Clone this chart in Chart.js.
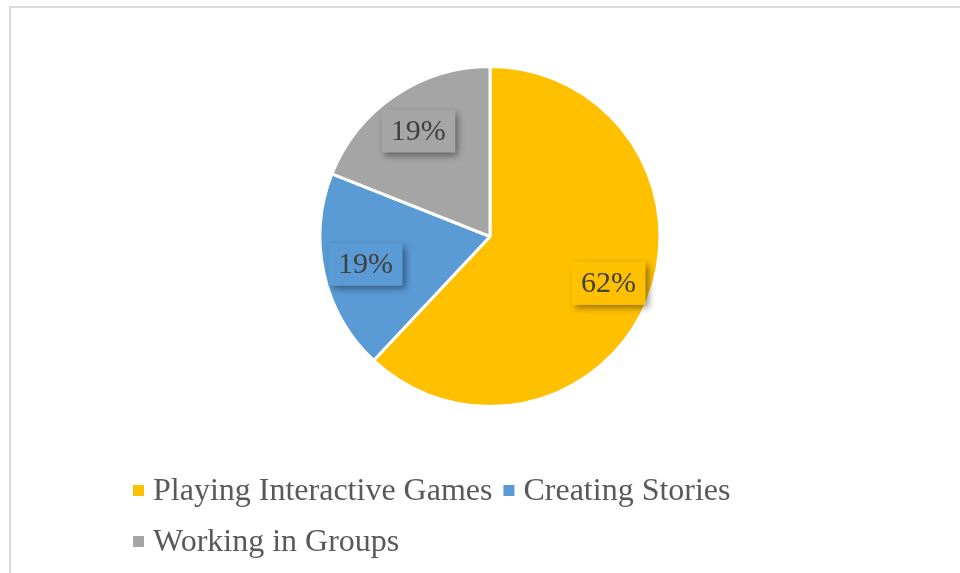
<!DOCTYPE html>
<html>
<head>
<meta charset="utf-8">
<script src="https://cdn.jsdelivr.net/npm/chart.js@4/dist/chart.umd.min.js"></script>
<style>
  html, body { margin: 0; padding: 0; background: #ffffff; }
  canvas { display: block; }
</style>
</head>
<body>
<canvas id="c" width="960" height="573"></canvas>
<script>
// Activities and their share of responses (percent)
const categories = ['Playing Interactive Games', 'Creating Stories', 'Working in Groups'];
const shares = [62, 19, 19];
const sliceColors = ['#FFC000', '#5B9BD5', '#A5A5A5'];

const SERIF = '"Liberation Serif", "Times New Roman", serif';

// Light frame along the top and left edges
const framePlugin = {
  id: 'frame',
  beforeDraw(chart) {
    const ctx = chart.ctx;
    ctx.save();
    ctx.fillStyle = '#ffffff';
    ctx.fillRect(0, 0, chart.width, chart.height);
    ctx.strokeStyle = '#d9d9d9';
    ctx.lineWidth = 2;
    ctx.beginPath();
    ctx.moveTo(10, chart.height);
    ctx.lineTo(10, 7);
    ctx.lineTo(chart.width, 7);
    ctx.stroke();
    ctx.restore();
  }
};

// Percentage labels in filled boxes with a soft drop shadow
const valueLabelPlugin = {
  id: 'valueLabels',
  afterDatasetsDraw(chart) {
    const ctx = chart.ctx;
    const meta = chart.getDatasetMeta(0);
    const ds = chart.data.datasets[0];
    ctx.save();
    ctx.font = '30px ' + SERIF;
    meta.data.forEach((arc, i) => {
      const p = arc.getProps(['x', 'y', 'startAngle', 'endAngle', 'outerRadius'], true);
      const mid = (p.startAngle + p.endAngle) / 2;
      const r = p.outerRadius * 0.75;
      const cx = p.x + Math.cos(mid) * r;
      const cy = p.y + Math.sin(mid) * r;
      const text = ds.data[i] + '%';
      const tw = ctx.measureText(text).width;
      const bw = tw + 19, bh = 43;
      const bx = cx - bw / 2, by = cy - bh / 2;
      ctx.save();
      ctx.shadowColor = 'rgba(0,0,0,0.45)';
      ctx.shadowBlur = 7;
      ctx.shadowOffsetX = 3;
      ctx.shadowOffsetY = 3;
      ctx.fillStyle = ds.backgroundColor[i];
      ctx.fillRect(bx, by, bw, bh);
      ctx.restore();
      ctx.fillStyle = '#404040';
      ctx.textAlign = 'center';
      ctx.textBaseline = 'middle';
      ctx.fillText(text, cx, cy + 1);
    });
    ctx.restore();
  }
};

// Legend in two rows, left aligned, square markers
const legendPlugin = {
  id: 'squareLegend',
  afterDraw(chart) {
    const ctx = chart.ctx;
    const ds = chart.data.datasets[0];
    const labels = chart.data.labels;
    const left = 133, rowGap = 51, firstBaseline = 500, maxRight = 760;
    const box = 11;
    ctx.save();
    ctx.font = '32px ' + SERIF;
    ctx.textBaseline = 'alphabetic';
    ctx.textAlign = 'left';
    let x = left, baseline = firstBaseline;
    labels.forEach((lab, i) => {
      const tw = ctx.measureText(lab).width;
      const itemW = box + 9 + tw;
      if (x > left && x + itemW > maxRight) {
        x = left;
        baseline += rowGap;
      }
      ctx.fillStyle = ds.backgroundColor[i];
      ctx.fillRect(x, baseline - 15, box, box);
      ctx.fillStyle = '#595959';
      ctx.fillText(lab, x + box + 9, baseline);
      x += itemW + 11;
    });
    ctx.restore();
  }
};

new Chart(document.getElementById('c'), {
  type: 'pie',
  data: {
    labels: categories,
    datasets: [{
      data: shares,
      backgroundColor: sliceColors,
      borderColor: '#ffffff',
      borderWidth: 3,
      radius: 170
    }]
  },
  options: {
    responsive: false,
    animation: false,
    layout: { padding: { top: 50, bottom: 150, left: 30, right: 10 } },
    plugins: {
      legend: { display: false },
      tooltip: { enabled: false }
    }
  },
  plugins: [framePlugin, valueLabelPlugin, legendPlugin]
});
</script>
</body>
</html>
